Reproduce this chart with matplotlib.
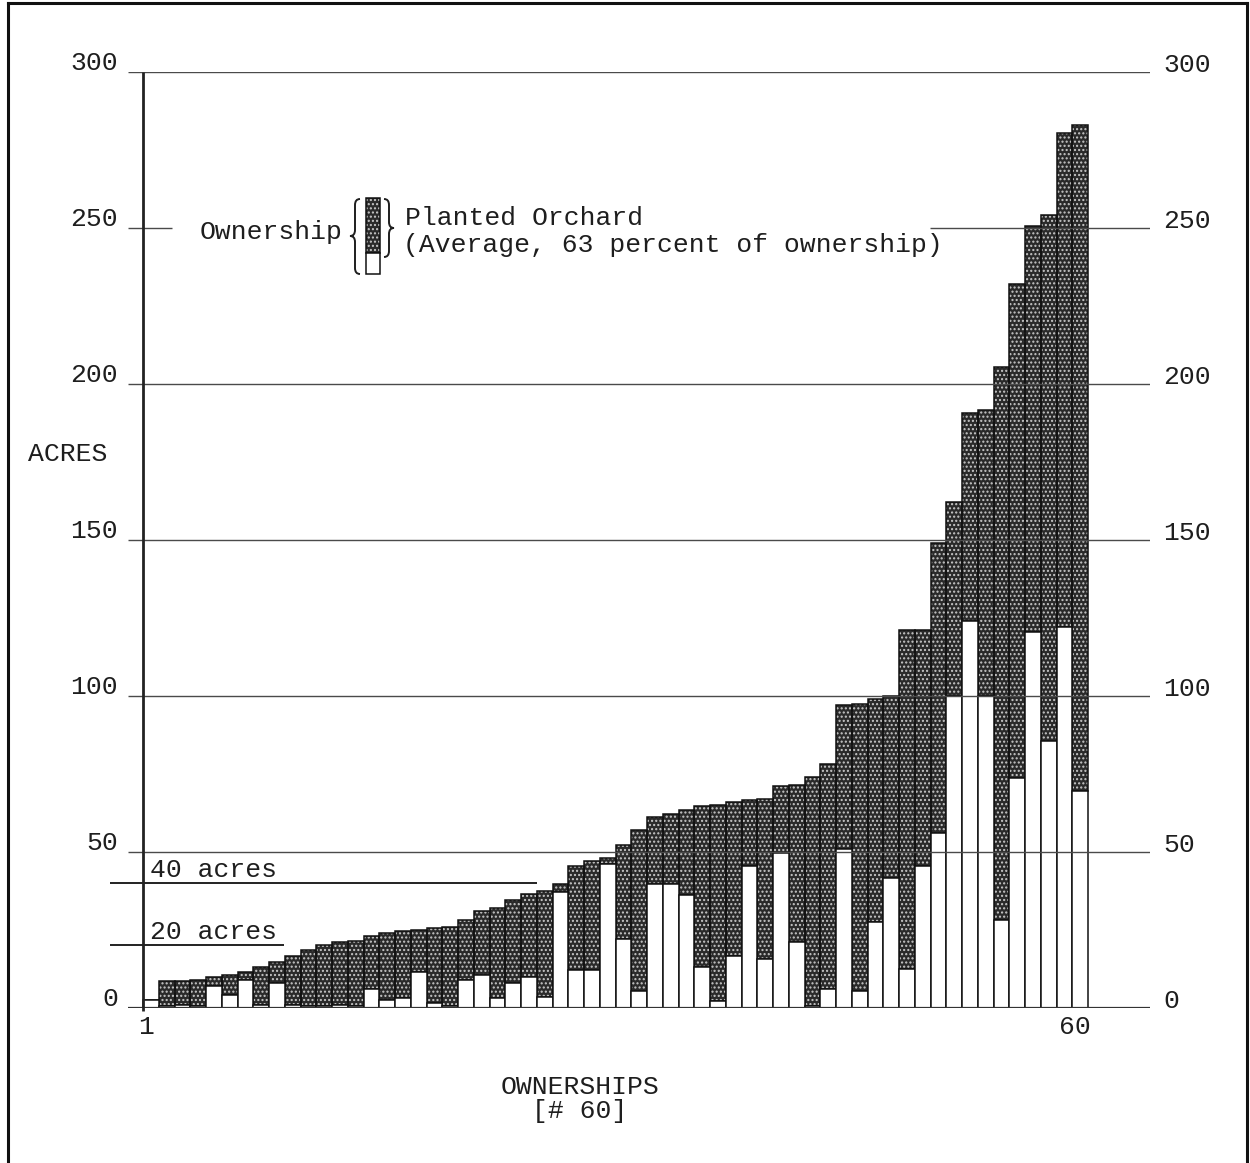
import matplotlib
matplotlib.use("Agg")
import matplotlib.pyplot as plt
from matplotlib.patches import Rectangle, PathPatch
from matplotlib.path import Path
from matplotlib.lines import Line2D
from matplotlib.transforms import Affine2D

# Ownership size (acres) for the 60 ownerships, smallest to largest
ownership = [2.5, 8.5, 8.5, 9, 10, 10.5, 11.5, 13, 14.5, 16.5,
             18.5, 20, 21, 21.5, 23, 24, 24.5, 25, 25.5, 26,
             28, 31, 32, 34.5, 36.5, 37.5, 39.5, 45.5, 47, 48,
             52, 57, 61, 62, 63.5, 64.5, 65, 66, 66.5, 67,
             71, 71.5, 74, 78, 97, 97.5, 99, 100, 121, 121,
             149, 162, 190.5, 191.5, 205.5, 232, 250.5, 254, 280.5, 283]

# Planted orchard acreage within each ownership
planted = [0, 8, 7.5, 8.5, 3, 6.5, 2.5, 12, 6.5, 15.5,
           18, 19.5, 20, 21, 17, 21.5, 21.5, 13.5, 24, 25.5,
           19, 20.5, 29, 26.5, 26.5, 34, 2.5, 33.5, 35, 2,
           30, 51.5, 21.5, 22.5, 27.5, 51.5, 63, 49.5, 21, 51.5,
           21.5, 50.5, 73.5, 72, 46, 92, 71.5, 58.5, 108.5, 75.5,
           93, 62, 66.5, 91.5, 177.5, 158.5, 130, 168.5, 158.5, 213.5]

y_ticks = [0, 50, 100, 150, 200, 250, 300]
ref_lines = [(40, "40 acres"), (20, "20 acres")]

W, H = 1250, 1163
FONT = "Liberation Mono"
FS = 19
INK = "#1e1e1e"
STIPPLE = dict(facecolor="#2a2a2a", hatch="....", edgecolor="#c8c8c8", linewidth=0)

fig = plt.figure(figsize=(W / 100, H / 100), dpi=100)
fig.patch.set_facecolor("white")

# pixel transform (x from left, y from top)
PX = Affine2D().scale(1 / 100.0).scale(1, -1).translate(0, H / 100.0) + fig.dpi_scale_trans

# plotting area
ax_l, ax_r, ax_t, ax_b = 128, 1150, 71.7, 1007.7
ax = fig.add_axes([ax_l / W, (H - ax_b) / H, (ax_r - ax_l) / W, (ax_b - ax_t) / H])
bar_px = 15.75
x0 = 0.5 - (143 - ax_l) / bar_px
ax.set_xlim(x0, x0 + (ax_r - ax_l) / bar_px)
ax.set_ylim(0, 300)
ax.axis("off")

n = len(ownership)
xs = list(range(1, n + 1))
unplanted = [o - p for o, p in zip(ownership, planted)]

# planted (stippled) part on top, unplanted (white) part at the base
ax.bar(xs, planted, bottom=unplanted, width=1.0, zorder=2, **STIPPLE)
ax.bar(xs, planted, bottom=unplanted, width=1.0, color="none",
       edgecolor="#111111", linewidth=1.1, zorder=3)
ax.bar(xs, unplanted, width=1.0, color="white",
       edgecolor="#111111", linewidth=1.1, zorder=3)

# horizontal scale lines
GRID = dict(color="#4a4a4a", lw=1.0, zorder=4)
xa, xb = ax.get_xlim()
for v in y_ticks:
    if v == 250:
        ax.hlines(v, xa, 0.5 + (172 - 143) / bar_px, **GRID)
        ax.hlines(v, 0.5 + (930 - 143) / bar_px, xb, **GRID)
    elif v == 0:
        ax.hlines(v, xa, xb, color="#333333", lw=1.6, zorder=4)
    else:
        ax.hlines(v, xa, xb, **GRID)

# 40 and 20 acre reference lines
ref_ends = {40: 537, 20: 284}
for v, lab in ref_lines:
    ax.hlines(v, 0.5 - (143 - 110) / bar_px, 0.5 + (ref_ends[v] - 143) / bar_px,
              color="#222222", lw=1.4, zorder=4, clip_on=False)
    ax.text(0.5 + (150 - 143) / bar_px, v + 0.4, lab, family=FONT, fontsize=FS,
            color=INK, ha="left", va="bottom", zorder=6)

# vertical axis
ax.vlines(0.5, -1, 300, color="#222222", lw=2.0, zorder=5, clip_on=False)

# tick labels on both sides
for v in y_ticks:
    yp = ax_b - v * (ax_b - ax_t) / 300.0
    fig.text(118 / W, (H - (yp - 8.5)) / H, str(v), family=FONT, fontsize=FS,
             color=INK, ha="right", va="center")
    fig.text(1163 / W, (H - (yp - 6.5)) / H, str(v), family=FONT, fontsize=FS,
             color=INK, ha="left", va="center")


def ptext(x, y, s, ha="left"):
    fig.text(x / W, (H - y) / H, s, family=FONT, fontsize=FS, color=INK,
             ha=ha, va="center")


ptext(146, 1027, "1", ha="center")
ptext(1075, 1027, "60", ha="center")
ptext(68, 454, "ACRES", ha="center")
ptext(580, 1087, "OWNERSHIPS", ha="center")
ptext(580, 1111, "[# 60]", ha="center")

# key
ptext(200, 232, "Ownership")
ptext(405, 218, "Planted Orchard")
ptext(403, 245, "(Average, 63 percent of ownership)")

fig.add_artist(Rectangle((366, 198), 14, 55, transform=PX, **STIPPLE))
fig.add_artist(Rectangle((366, 198), 14, 55, transform=PX, facecolor="none",
                         edgecolor="#111111", linewidth=1.1))
fig.add_artist(Rectangle((366, 253), 14, 21, transform=PX, facecolor="white",
                         edgecolor="#111111", linewidth=1.1))


def brace(xs_, y0, y1, ym, h, d):
    r = 6
    verts = [(xs_ - d * h, y0), (xs_, y0), (xs_, y0 + r),
             (xs_, ym - r), (xs_, ym), (xs_ + d * h, ym),
             (xs_, ym), (xs_, ym + r),
             (xs_, y1 - r), (xs_, y1), (xs_ - d * h, y1)]
    codes = [Path.MOVETO, Path.CURVE3, Path.CURVE3,
             Path.LINETO, Path.CURVE3, Path.CURVE3,
             Path.CURVE3, Path.CURVE3,
             Path.LINETO, Path.CURVE3, Path.CURVE3]
    fig.add_artist(PathPatch(Path(verts, codes), transform=PX, facecolor="none",
                             edgecolor=INK, linewidth=1.4))


brace(355, 199, 274, 236, 5, -1)
brace(389, 199, 257, 228, 5, 1)

# page frame
for (xa_, ya_), (xb_, yb_) in [((7.5, H + 5), (7.5, 3)), ((7.5, 3), (1247, 3)),
                               ((1247, 3), (1247, H + 5))]:
    fig.add_artist(Line2D([xa_, xb_], [ya_, yb_], transform=PX, color="#111111",
                          linewidth=2.2))

fig.savefig("out.png", dpi=100, facecolor="white")
